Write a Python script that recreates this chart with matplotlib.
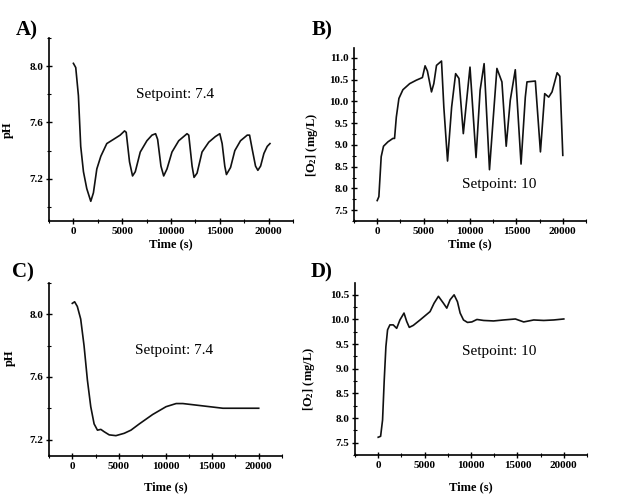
# pH and dissolved O2 control runs, four panels
import numpy as np
import matplotlib
matplotlib.use('Agg')
import matplotlib.pyplot as plt
from matplotlib.ticker import MultipleLocator

plt.rcParams['font.family'] = ['Liberation Serif', 'DejaVu Serif']
plt.rcParams['mathtext.fontset'] = 'custom'
plt.rcParams['mathtext.rm'] = 'Liberation Serif:bold'
plt.rcParams['mathtext.default'] = 'rm'

# A) pH, oscillating control
time_a = [0, 240, 514, 750, 1030, 1370, 1780, 2050, 2400, 2810, 3420, 4110, 4790, 5240,
          5410, 5750, 6060, 6340, 6850, 7530, 8050, 8420, 8630, 8970, 9250, 9590, 10100,
          10790, 11640, 11820, 12160, 12360, 12670, 13180, 13870, 14550, 15000, 15240,
          15510, 15680, 16100, 16540, 17120, 17810, 18050, 18320, 18660, 18900, 19180,
          19520, 19860, 20140]
ph_a = [8.02, 7.99, 7.79, 7.43, 7.25, 7.13, 7.04, 7.10, 7.27, 7.36, 7.45, 7.48, 7.51, 7.54,
        7.53, 7.32, 7.22, 7.25, 7.39, 7.47, 7.51, 7.52, 7.48, 7.29, 7.22, 7.27, 7.39,
        7.47, 7.52, 7.51, 7.29, 7.21, 7.24, 7.39, 7.46, 7.50, 7.52, 7.45,
        7.29, 7.23, 7.28, 7.40, 7.47, 7.51, 7.51, 7.41, 7.29, 7.26, 7.29,
        7.38, 7.43, 7.45]

# B) O2, oscillating control
time_b = [0, 180, 430, 680, 1150, 1690, 1870, 2060, 2340, 2770, 3500, 4220, 4870, 5160,
          5410, 5850, 6100, 6390, 6930, 7180, 7580, 8020, 8450, 8810, 9280, 9640, 10000,
          10650, 11090, 11520, 12100, 12460, 12900, 13440, 13900, 14340, 14880, 15500,
          15960, 16140, 17040, 17590, 18050, 18480, 18840, 19390, 19680, 20000]
o2_b = [7.72, 7.81, 8.73, 8.97, 9.07, 9.15, 9.15, 9.64, 10.07, 10.27, 10.41, 10.49, 10.55, 10.82,
        10.70, 10.22, 10.41, 10.83, 10.93, 9.87, 8.63, 9.87, 10.64, 10.53, 9.26, 10.03, 10.79,
        8.71, 10.26, 10.87, 8.43, 9.49, 10.76, 10.45, 8.97, 10.03, 10.73, 8.56,
        10.10, 10.45, 10.47, 8.84, 10.18, 10.10, 10.22, 10.66, 10.58, 8.76]

# C) pH, tuned control
time_c = [0, 250, 540, 900, 1260, 1620, 1980, 2340, 2700, 3060, 3420, 3960, 4680, 5570,
          6290, 7190, 8620, 10060, 11140, 11860, 13300, 14730, 16160, 17960, 20000]
ph_c = [8.07, 8.08, 8.05, 7.97, 7.80, 7.58, 7.41, 7.30, 7.26, 7.265, 7.25, 7.23, 7.225, 7.24,
        7.26, 7.30, 7.36, 7.41, 7.43, 7.43, 7.42, 7.41, 7.40, 7.40, 7.40]

# D) O2, tuned control
time_d = [0, 260, 470, 650, 830, 1010, 1260, 1620, 1990, 2340, 2780, 3070, 3350, 3780,
          4510, 5590, 6020, 6490, 7030, 7390, 7750, 8180, 8540, 8830, 9190, 9620, 10090,
          10640, 11360, 12430, 13510, 14780, 15680, 16760, 17840, 18920, 20000]
o2_d = [7.61, 7.63, 7.96, 8.77, 9.45, 9.79, 9.89, 9.89, 9.82, 9.99, 10.13, 9.96, 9.84, 9.88,
        9.99, 10.16, 10.33, 10.47, 10.33, 10.23, 10.40, 10.50, 10.36, 10.13, 9.99, 9.94, 9.95,
        10.00, 9.98, 9.97, 9.99, 10.01, 9.95, 9.99, 9.98, 9.99, 10.01]

W, H = 631, 501
fig = plt.figure(figsize=(W / 100, H / 100), dpi=100)

def px_axes(left, top, right, bottom):
    return fig.add_axes([left / W, 1 - bottom / H, (right - left) / W, (bottom - top) / H])

panels = [
    # box, x, y, ylim, ymajor, yminor, ylabel, letter + pos, text pos, text, xlabel y, ylabel xy
    ((49, 38, 293, 221), time_a, ph_a, (6.9, 8.2), 0.4, 0.2, 'pH', ('A)', 16, 30),
     (10400, 7.80), 'Setpoint: 7.4', -0.093, (-0.143, 0.5)),
    ((354, 48, 586, 221), time_b, o2_b, (7.25, 11.23), 0.5, 0.25, '[O$_2$] (mg/L)', ('B)', 312, 30),
     (13180, 8.10), 'Setpoint: 10', -0.10, (-0.147, 0.44)),
    ((49, 283, 282, 456), time_c, ph_c, (7.095, 8.2), 0.4, 0.2, 'pH', ('C)', 12, 272),
     (10960, 7.77), 'Setpoint: 7.4', -0.147, (-0.143, 0.57)),
    ((355, 283, 587, 455), time_d, o2_d, (7.25, 10.74), 0.5, 0.25, '[O$_2$] (mg/L)', ('D)', 311, 272),
     (13080, 9.36), 'Setpoint: 10', -0.151, (-0.164, 0.44)),
]

for box, x, y, ylim, ymaj, ymin, ylab, letter, tpos, txt, xly, yl in panels:
    ax = px_axes(*box)
    ax.plot(x, y, color='#111111', lw=1.2)
    ax.set_xlim(-2500, 22500)
    ax.set_ylim(*ylim)
    ax.xaxis.set_major_locator(MultipleLocator(5000))
    ax.xaxis.set_minor_locator(MultipleLocator(2500))
    ax.yaxis.set_major_locator(MultipleLocator(ymaj))
    ax.yaxis.set_minor_locator(MultipleLocator(ymin))
    ax.yaxis.set_major_formatter(matplotlib.ticker.FormatStrFormatter('%.1f'))
    for s in ['top', 'right']:
        ax.spines[s].set_visible(False)
    for s in ['left', 'bottom']:
        ax.spines[s].set_linewidth(1.2)
    ax.tick_params(which='major', direction='inout', length=4, width=1, pad=2, labelsize=8)
    ax.tick_params(which='minor', direction='inout', length=2.5, width=0.8)
    for lab in ax.get_xticklabels() + ax.get_yticklabels():
        lab.set_fontweight('bold')
    ax.set_xlabel('Time (s)', fontsize=9, fontweight='bold')
    ax.xaxis.set_label_coords(0.5, xly)
    ax.set_ylabel(ylab, fontsize=9, fontweight='bold')
    ax.yaxis.set_label_coords(*yl)
    ax.text(tpos[0], tpos[1], txt, fontsize=11, ha='center', va='center')
    fig.text(letter[1] / W, 1 - letter[2] / H, letter[0], fontsize=15,
             fontweight='bold', ha='left', va='center')

fig.savefig('out.png', dpi=100)
